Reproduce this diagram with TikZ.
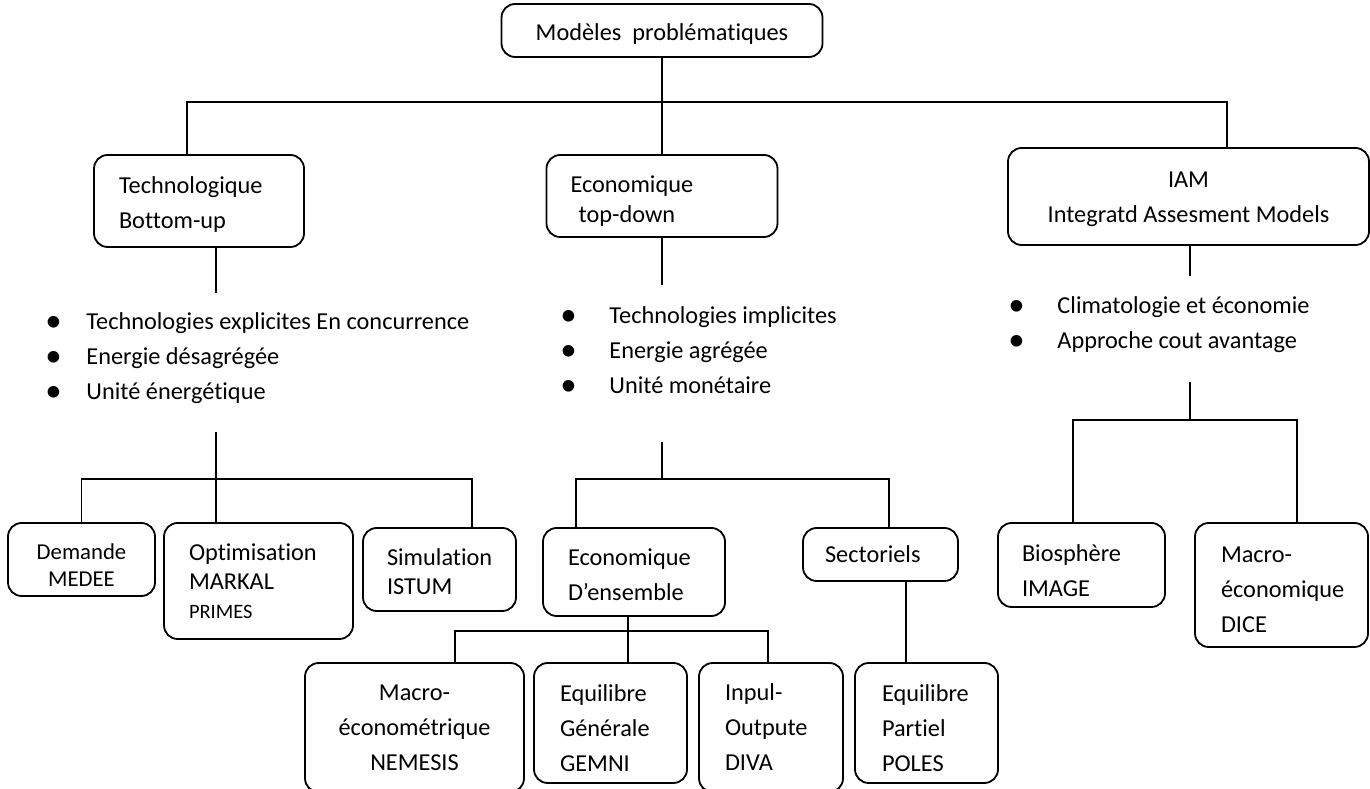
\documentclass[tikz,border=0pt]{standalone}
\usepackage{fontspec}
\setmainfont{Carlito}[Ligatures=NoCommon]

\newdimen\px
\px=0.44pt

\newcommand{\puce}{\raisebox{-0.9pt}{\scalebox{1.35}{\textbullet}}}
\newcommand{\puces}[2]{\begin{tabular}{@{}p{#1\px}@{}l@{}}#2\end{tabular}}

\tikzset{
	box/.style={
		draw,
		rounded corners=6pt,
		line width=0.8pt,
		inner ysep=0pt,
		font=\fontsize{10.7}{15.4}\selectfont
	},
	lbox/.style 2 args={
		box,
		align=left,
		inner xsep=#1\px,
		text width=#2\px
	},
	cbox/.style={
		box,
		align=center,
		inner xsep=0pt
	},
	single/.style={
		font=\fontsize{10.7}{12.8}\selectfont
	},
	bullets/.style={
		anchor=north west,
		inner sep=0pt,
		font=\fontsize{10.7}{15.4}\selectfont
	},
	link/.style={
		line width=0.7pt
	}
}

\begin{document}
\hyphenpenalty=10000
\begin{tikzpicture}[x=0.44pt,y=-0.44pt]
	\useasboundingbox (0,0) rectangle (1370,789);
	\clip (0,0) rectangle (1370,789);

	% racine et trois familles
	\node[cbox,minimum width=321\px,minimum height=53\px,text height=24\px]
		(top)  at (662,30.5)     {Modèles~ problématiques};
	\node[lbox={25}{160},minimum height=92\px,text height=24\px]
		(tech) at (199,201)      {Technologique\\Bottom-up};
	\node[lbox={24}{183},minimum height=82\px,text height=26\px,font=\fontsize{10.7}{13.2}\selectfont]
		(eco)  at (662,196)      {Economique\\~top-down};
	\node[cbox,minimum width=361\px,minimum height=97\px,text height=57\px]
		(iam)  at (1188.5,196.5) {IAM\\Integratd Assesment Models};

	% caracteristiques
	\node[bullets] (techlist) at (45,304.5)   {\puces{41}{\puce & Technologies explicites En concurrence\\
		\puce & Energie désagrégée\\ \puce & Unité énergétique}};
	\node[bullets] (ecolist)  at (560,298.5)  {\puces{49}{\puce & Technologies implicites\\
		\puce & Energie agrégée\\ \puce & Unité monétaire}};
	\node[bullets] (iamlist)  at (1008,288.5) {\puces{49}{\puce & Climatologie et économie\\
		\puce & Approche cout avantage}};

	% modeles bottom-up
	\node[cbox,minimum width=147\px,minimum height=73\px,text height=55\px,font=\fontsize{10}{12}\selectfont]
		(dem) at (81.5,559.5)  {Demande\\MEDEE};
	\node[lbox={25}{139},single,minimum height=116\px]
		(opt) at (258.5,581)   {Optimisation\\MARKAL\\{\fontsize{9}{11}\selectfont PRIMES}};
	\node[lbox={24}{105},single,minimum height=83\px,text height=22\px]
		(sim) at (439.5,569.5) {Simulation\\ISTUM};

	% modeles top-down
	\node[lbox={25}{132},minimum height=88\px,text height=23\px]
		(ens)  at (634,572)     {Economique\\D’ensemble};
	\node[lbox={22}{111},minimum height=53\px]
		(sect) at (880.5,554.5) {Sectoriels};
	\node[cbox,minimum width=219\px,minimum height=129\px]
		(mac)  at (414.5,727.5) {Macro-\\économétrique\\NEMESIS};
	\node[lbox={26}{101},minimum height=120\px,text height=28\px]
		(eqg)  at (610.5,723)   {Equilibre\\Générale\\GEMNI};
	\node[lbox={26}{92},minimum height=129\px]
		(io)   at (771,727.5)   {Inpul-\\Outpute\\DIVA};
	\node[lbox={27}{89},minimum height=120\px,text height=28\px]
		(eqp)  at (926.5,723)   {Equilibre\\Partiel\\POLES};

	% modeles IAM
	\node[lbox={24}{119},minimum height=84\px,text height=28\px]
		(bio)  at (1081.5,565)  {Biosphère\\IMAGE};
	\node[lbox={26}{121},minimum height=124\px,text height=26\px]
		(dice) at (1281.5,585)  {Macro-\\économique\\DICE};

	% points de raccord
	\coordinate (busA)  at (187,102);
	\coordinate (busB)  at (1227,102);
	\coordinate (techA) at (216,293);
	\coordinate (techB) at (216,432);
	\coordinate (tbus)  at (472,479);
	\coordinate (ecoA)  at (662,285);
	\coordinate (ecoB)  at (662,442);
	\coordinate (ebusL) at (576,479);
	\coordinate (ebusR) at (889,479);
	\coordinate (nbusL) at (455,631);
	\coordinate (nbusM) at (628,631);
	\coordinate (nbusR) at (768,631);
	\coordinate (sp)    at (906,0);
	\coordinate (iamA)  at (1190,276);
	\coordinate (iamB)  at (1190,382);
	\coordinate (ibusL) at (1073,420);
	\coordinate (ibusR) at (1297,420);

	% connecteurs
	\draw[link] (top) -- (eco);
	\draw[link] (busA |- tech.north) -- (busA) -- (busB) -- (busB |- iam.north);

	\draw[link] (techA |- tech.south) -- (techA);
	\draw[link] (techB) -- (techB |- opt.north);
	\draw[link] (dem.north) |- (tbus) -- (tbus |- sim.north);

	\draw[link] (eco) -- (ecoA);
	\draw[link] (ecoB) -- (ecoB |- ebusL);
	\draw[link] (ebusL |- ens.north) -- (ebusL) -- (ebusR) -- (ebusR |- sect.north);
	\draw[link] (nbusM |- ens.south) -- (nbusM |- eqg.north);
	\draw[link] (nbusL |- mac.north) -- (nbusL) -- (nbusR) -- (nbusR |- io.north);
	\draw[link] (sp |- sect.south) -- (sp |- eqp.north);

	\draw[link] (iamA |- iam.south) -- (iamA);
	\draw[link] (iamB) -- (iamB |- ibusL);
	\draw[link] (ibusL |- bio.north) -- (ibusL) -- (ibusR) -- (ibusR |- dice.north);
\end{tikzpicture}
\end{document}
